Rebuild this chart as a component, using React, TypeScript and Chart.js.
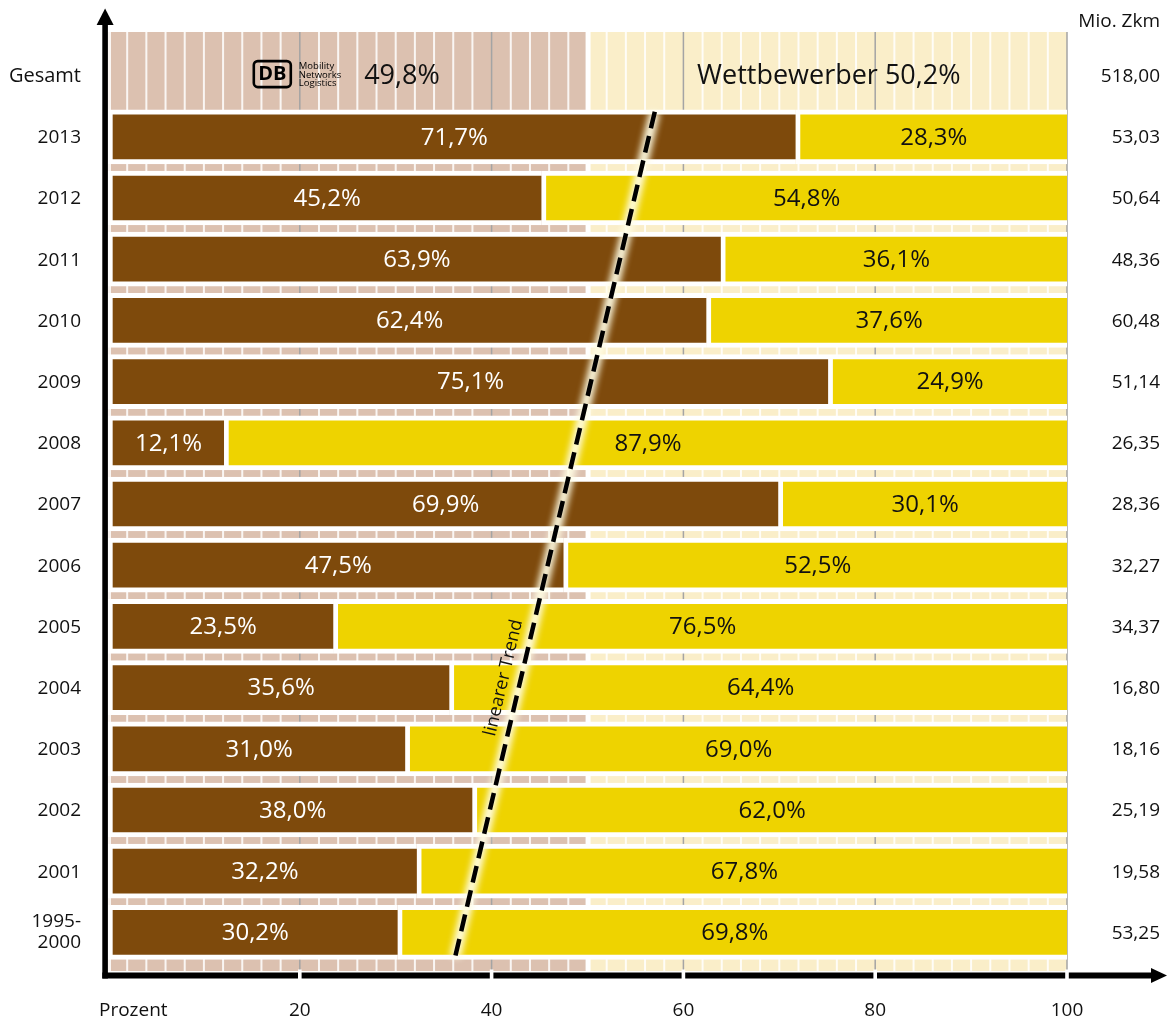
import React, { useEffect, useRef } from 'react';
import { Chart, registerables } from 'chart.js';

Chart.register(...registerables);

// ---------- data ----------
const categories: (string | string[])[] = [
  'Gesamt', '2013', '2012', '2011', '2010', '2009', '2008', '2007', '2006',
  '2005', '2004', '2003', '2002', '2001', ['1995-', '2000'],
];
const dbShare: (number | null)[] = [
  null, 71.7, 45.2, 63.9, 62.4, 75.1, 12.1, 69.9, 47.5, 23.5, 35.6, 31.0, 38.0, 32.2, 30.2,
];
const competitorShare: (number | null)[] = [
  null, 28.3, 54.8, 36.1, 37.6, 24.9, 87.9, 30.1, 52.5, 76.5, 64.4, 69.0, 62.0, 67.8, 69.8,
];
const totalDbShare = 49.8;
const totalCompetitorShare = 50.2;
const volumeLabels = [
  '518,00', '53,03', '50,64', '48,36', '60,48', '51,14', '26,35', '28,36', '32,27',
  '34,37', '16,80', '18,16', '25,19', '19,58', '53,25',
];
const xTicks = [20, 40, 60, 80, 100];
const xAxisTitle = 'Prozent';
const volumeTitle = 'Mio. Zkm';
const competitorTitle = 'Wettbewerber';
const logoLines = ['Mobility', 'Networks', 'Logistics'];
const trendLabel = 'linearer Trend';
// trend value at first (1995-2000) and last (2013) period
const trendFirst = 36.8;
const trendLast = 56.4;

// ---------- style ----------
const W = 1168;
const H = 1021;
const FONT = '"Open Sans", "Noto Sans", sans-serif';
const BROWN = '#7e4a0c';
const YELLOW = '#eed300';
const BG_BROWN = '#dcc1b0';
const BG_YELLOW = '#faeec9';
const GRID_GRAY = '#a4a4a4';
const TEXT = '#111111';

const fmt = (v: number) => v.toFixed(1).replace('.', ',') + '%';

const backgroundPlugin = {
  id: 'bgStripes',
  beforeDatasetsDraw(chart: any) {
    const { ctx, chartArea, scales } = chart;
    const x = scales.x;
    const top = chartArea.top - 13;
    const bottom = chartArea.bottom + 8;
    const x0 = x.getPixelForValue(0);
    const xs = x.getPixelForValue(totalDbShare);
    const x100 = x.getPixelForValue(100);
    ctx.save();
    ctx.fillStyle = BG_BROWN;
    ctx.fillRect(x0, top, xs - x0, bottom - top);
    ctx.fillStyle = BG_YELLOW;
    ctx.fillRect(xs + 5, top, x100 - xs - 5, bottom - top);
    // white stripes every 2 %
    for (let v = 0; v < 100; v += 2) {
      const px = x.getPixelForValue(v);
      if (v > 0 && v % 20 === 0) continue;
      ctx.fillStyle = 'rgba(255,255,255,0.85)';
      if (v === 0) ctx.fillRect(px, top, 3, bottom - top);
      else ctx.fillRect(px - 1, top, 2, bottom - top);
    }
    for (let v = 20; v <= 100; v += 20) {
      const px = x.getPixelForValue(v);
      ctx.fillStyle = GRID_GRAY;
      ctx.fillRect(px - 0.75, top, 1.5, bottom - top);
    }
    ctx.restore();
  },
};

const overlayPlugin = {
  id: 'overlay',
  afterDatasetsDraw(chart: any) {
    const { ctx, scales } = chart;
    const x = scales.x;
    const y = scales.y;
    ctx.save();
    ctx.textAlign = 'center';
    ctx.textBaseline = 'middle';
    ctx.font = `24px ${FONT}`;
    // bar labels
    const m0 = chart.getDatasetMeta(0);
    const m1 = chart.getDatasetMeta(1);
    for (let i = 0; i < categories.length; i++) {
      const b0: any = m0.data[i];
      const b1: any = m1.data[i];
      if (dbShare[i] != null && b0) {
        const cx = (b0.base + 5 + b0.x) / 2;
        ctx.fillStyle = '#ffffff';
        ctx.fillText(fmt(dbShare[i] as number), cx, b0.y + 1);
      }
      if (competitorShare[i] != null && b1) {
        const cx = (b1.base + 5 + b1.x) / 2;
        ctx.fillStyle = TEXT;
        ctx.fillText(fmt(competitorShare[i] as number), cx, b1.y + 1);
      }
    }

    // Gesamt row
    const gy = y.getPixelForValue(0);
    const x0 = x.getPixelForValue(0);
    const xs = x.getPixelForValue(totalDbShare);
    const x100 = x.getPixelForValue(100);
    ctx.font = `27px ${FONT}`;
    const dbTxt = fmt(totalDbShare);
    const wDb = ctx.measureText(dbTxt).width;
    ctx.font = `9.5px ${FONT}`;
    const wSmall = Math.max(...logoLines.map((l) => ctx.measureText(l).width));
    const logoW = 37;
    const logoH = 26;
    const groupW = logoW + 8 + wSmall + 23 + wDb;
    let gx = (x0 + xs) / 2 - groupW / 2;
    // logo box
    ctx.strokeStyle = '#000';
    ctx.lineWidth = 2.6;
    ctx.beginPath();
    (ctx as any).roundRect(gx, gy - 14.5, logoW, logoH, 4);
    ctx.stroke();
    ctx.fillStyle = '#000';
    ctx.font = `bold 20px ${FONT}`;
    ctx.textAlign = 'center';
    ctx.fillText('DB', gx + logoW / 2, gy - 1);
    gx += logoW + 8;
    ctx.font = `9.5px ${FONT}`;
    ctx.textAlign = 'left';
    logoLines.forEach((l, k) => ctx.fillText(l, gx, gy - 9 + k * 8.3));
    gx += wSmall + 23;
    ctx.font = `27px ${FONT}`;
    ctx.fillStyle = TEXT;
    ctx.fillText(dbTxt, gx, gy + 1);
    ctx.textAlign = 'center';
    ctx.fillText(`${competitorTitle} ${fmt(totalCompetitorShare)}`, (xs + 5 + x100) / 2, gy + 1);

    // trend line
    const last = categories.length - 1;
    const pitch = y.getPixelForValue(1) - y.getPixelForValue(0);
    const slope = (trendLast - trendFirst) / (last - 1);
    const ext = 0.41;
    const xb = x.getPixelForValue(trendFirst - slope * ext);
    const yb = y.getPixelForValue(last) + pitch * ext;
    const xt = x.getPixelForValue(trendLast + slope * ext);
    const yt = y.getPixelForValue(1) - pitch * ext;
    ctx.save();
    ctx.filter = 'blur(3px)';
    ctx.strokeStyle = 'rgba(255,253,228,0.95)';
    ctx.lineWidth = 11;
    ctx.beginPath();
    ctx.moveTo(xt, yt);
    ctx.lineTo(xb, yb);
    ctx.stroke();
    ctx.restore();
    ctx.save();
    ctx.strokeStyle = '#000';
    ctx.lineWidth = 4.5;
    ctx.setLineDash([17, 8]);
    ctx.beginPath();
    ctx.moveTo(xt, yt);
    ctx.lineTo(xb, yb);
    ctx.stroke();
    ctx.restore();
    // trend label
    const f = 0.326;
    const px = xb + (xt - xb) * f;
    const py = yb + (yt - yb) * f;
    const ang = Math.atan2(yt - yb, xt - xb);
    ctx.save();
    ctx.translate(px, py);
    ctx.rotate(ang);
    ctx.font = `18px ${FONT}`;
    ctx.fillStyle = TEXT;
    ctx.textAlign = 'center';
    ctx.textBaseline = 'middle';
    ctx.fillText(trendLabel, 0, -17);
    ctx.restore();
    ctx.restore();
  },
  afterDraw(chart: any) {
    const { ctx, chartArea, scales } = chart;
    const x = scales.x;
    const y = scales.y;
    ctx.save();
    // vertical axis with arrow
    const axX = 102.3;
    const axTh = 5.6;
    const axisY = chartArea.bottom + 9.5;
    ctx.fillStyle = '#000';
    ctx.fillRect(axX, 23, axTh, axisY + 6 - 23);
    ctx.beginPath();
    ctx.moveTo(axX + axTh / 2, 8.5);
    ctx.lineTo(axX + axTh / 2 + 8.5, 25);
    ctx.lineTo(axX + axTh / 2 - 8.5, 25);
    ctx.closePath();
    ctx.fill();
    // horizontal axis with arrow
    ctx.fillRect(axX, axisY, 1153 - axX, 6);
    ctx.beginPath();
    ctx.moveTo(1167, axisY + 3);
    ctx.lineTo(1151, axisY + 3 - 7.5);
    ctx.lineTo(1151, axisY + 3 + 7.5);
    ctx.closePath();
    ctx.fill();
    // white notches at ticks
    ctx.fillStyle = '#ffffff';
    xTicks.forEach((v) => {
      const px = x.getPixelForValue(v);
      ctx.fillRect(px - 1.8, axisY - 3, 3.6, 9.5);
    });
    // x tick labels
    ctx.fillStyle = TEXT;
    ctx.font = `19px ${FONT}`;
    ctx.textBaseline = 'middle';
    ctx.textAlign = 'center';
    xTicks.forEach((v) => ctx.fillText(String(v), x.getPixelForValue(v), 1011));
    ctx.textAlign = 'left';
    ctx.fillText(xAxisTitle, 99, 1011);
    // category labels
    ctx.textAlign = 'right';
    categories.forEach((c, i) => {
      const cy = y.getPixelForValue(i);
      if (Array.isArray(c)) {
        ctx.font = `19px ${FONT}`;
        c.forEach((line, k) => ctx.fillText(line, 81, cy + (k - (c.length - 1) / 2) * 21));
      } else {
        ctx.font = i === 0 ? `20px ${FONT}` : `19px ${FONT}`;
        ctx.fillText(c, 81, cy + 1);
      }
    });
    // volume labels
    ctx.font = `19px ${FONT}`;
    volumeLabels.forEach((v, i) => ctx.fillText(v, 1160, y.getPixelForValue(i) + 1));
    ctx.fillText(volumeTitle, 1160, 22);
    ctx.restore();
  },
};

export default function App() {
  const ref = useRef<HTMLCanvasElement>(null);
  useEffect(() => {
    const canvas = ref.current;
    if (!canvas) return;
    const chart = new Chart(canvas, {
      type: 'bar',
      data: {
        labels: categories as any,
        datasets: [
          {
            label: 'DB',
            data: dbShare as any,
            backgroundColor: BROWN,
            borderColor: '#ffffff',
            borderWidth: 5,
            borderSkipped: 'end',
            barThickness: 54,
            stack: 's',
          },
          {
            label: competitorTitle,
            data: competitorShare as any,
            backgroundColor: YELLOW,
            borderColor: '#ffffff',
            borderWidth: 5,
            borderSkipped: 'end',
            barThickness: 54,
            stack: 's',
          },
        ],
      },
      options: {
        indexAxis: 'y',
        responsive: false,
        maintainAspectRatio: false,
        animation: false,
        devicePixelRatio: 1,
        layout: { padding: { left: 108, right: 101, top: 45, bottom: 58 } },
        plugins: { legend: { display: false }, tooltip: { enabled: false } },
        scales: {
          x: { type: 'linear', min: 0, max: 100, stacked: true, display: false },
          y: { type: 'category', stacked: true, display: false, offset: true },
        },
      } as any,
      plugins: [backgroundPlugin, overlayPlugin],
    });
    return () => chart.destroy();
  }, []);
  return (
    <div style={{ position: 'absolute', left: 0, top: 0, width: W, height: H, background: '#ffffff' }}>
      <canvas ref={ref} width={W} height={H} style={{ display: 'block', width: W, height: H }} />
    </div>
  );
}
